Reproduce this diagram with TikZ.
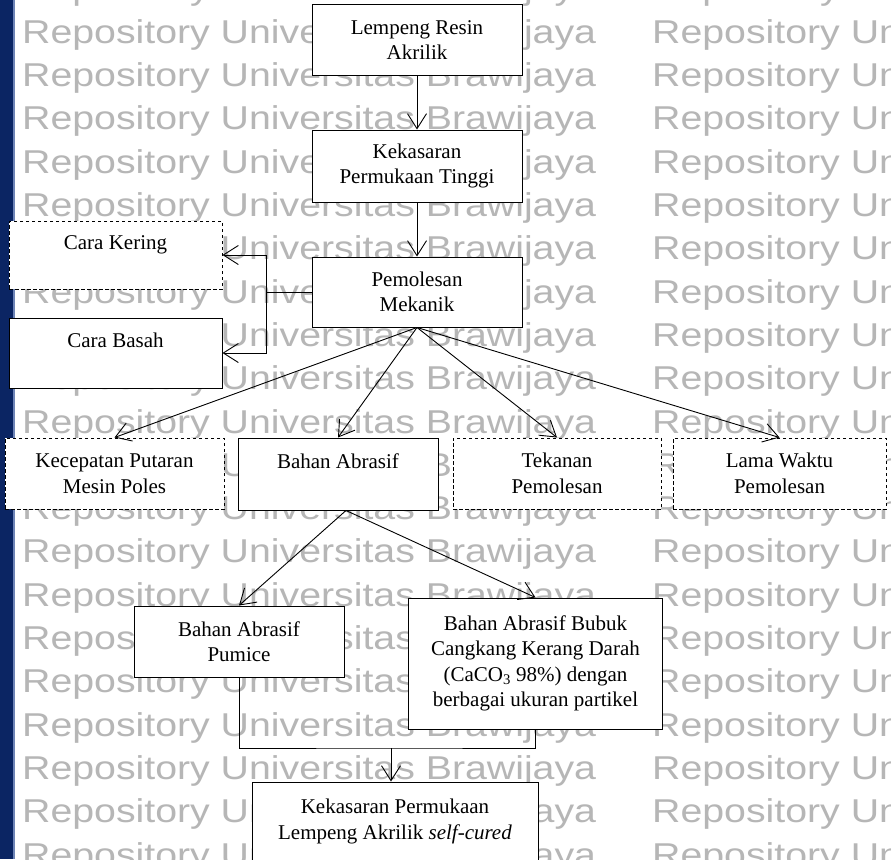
\documentclass[tikz,border=0pt]{standalone}
\usepackage{fontspec}
\setmainfont{Liberation Serif}
\newfontfamily\wmfont{Liberation Sans}
\usetikzlibrary{arrows.meta}
\definecolor{navy}{RGB}{11,37,99}
\definecolor{navyedge}{RGB}{110,132,182}
\definecolor{wmgray}{RGB}{182,182,182}
\tikzset{
 box/.style={draw, line width=1pt, fill=white, inner sep=0pt, align=center, font=\fontsize{21}{25.5}\selectfont},
 dbox/.style={box, dash pattern=on 3.5pt off 2.5pt},
 arr/.style={line width=0.9pt, -{Straight Barb[length=15pt,width=19pt]}},
 conn/.style={line width=0.9pt},
 wm/.style={inner sep=0pt, anchor=base west, text=wmgray, font=\wmfont\fontsize{33}{33}\selectfont}
}
\begin{document}
\begin{tikzpicture}[x=1pt,y=-1pt]
\useasboundingbox (0,0) rectangle (891,859);
\clip (0,0) rectangle (891,859);
\fill[white] (0,0) rectangle (891,859);
% watermark
\foreach \k in {0,...,20}{
 \node[wm] (wma\k) at (22,43.3*\k) {\scalebox{1.19}[1]{Repository Universitas Brawijaya}};
 \node[wm] (wmb\k) at (652,43.3*\k) {\scalebox{1.19}[1]{Repository Universitas Brawijaya}};
}
% left bar
\fill[navy] (0,0) rectangle (13,859);
\fill[navyedge] (13,0) rectangle (15,859);
% boxes
\node[box, minimum width=210pt, minimum height=70pt] (lem) at (417,40) {Lempeng Resin\\Akrilik};
\node[box, minimum width=210pt, minimum height=72pt] (kek) at (417,166) {Kekasaran\\Permukaan Tinggi};
\node[box, minimum width=210pt, minimum height=70pt] (pem) at (417,292) {Pemolesan\\Mekanik};
\node[dbox, minimum width=213pt, minimum height=68pt] (kering) at (115.5,255) {Cara Kering\\~};
\node[box, minimum width=213pt, minimum height=70pt] (basah) at (115.5,353) {Cara Basah\\~};
\node[dbox, minimum width=219pt, minimum height=71pt] (kec) at (114.5,473.5) {Kecepatan Putaran\\Mesin Poles};
\node[box, minimum width=200pt, minimum height=72pt] (bahan) at (338,474) {Bahan Abrasif\\~};
\node[dbox, minimum width=208pt, minimum height=71pt] (tek) at (557,473.5) {Tekanan\\Pemolesan};
\node[dbox, minimum width=213pt, minimum height=71pt] (lama) at (779.5,473.5) {Lama Waktu\\Pemolesan};
\node[box, minimum width=210pt, minimum height=71pt] (pum) at (239,641.5) {Bahan Abrasif\\Pumice};
\node[box, minimum width=254pt, minimum height=131pt] (bub) at (535.5,663.5) {Bahan Abrasif Bubuk\\Cangkang Kerang Darah\\(CaCO\textsubscript{3} 98\%) dengan\\berbagai ukuran partikel};
\node[box, minimum width=286pt, minimum height=100pt] (fin) at (395,832) {Kekasaran Permukaan\\Lempeng Akrilik \textit{self-cured}\\~};
% connectors
\draw[arr] (lem.south) -- (kek.north);
\draw[arr] (kek.south) -- (pem.north);
\coordinate (j1) at (266,292);
\draw[conn] (pem.west) -- (j1);
\draw[arr] (j1) |- (kering.east);
\draw[arr] (j1) |- (basah.east);
\draw[arr] (pem.south) -- (kec.north);
\draw[arr] (pem.south) -- (bahan.north);
\draw[arr] (pem.south) -- (tek.north);
\draw[arr] (pem.south) -- (lama.north);
\draw[arr] ([xshift=8pt]bahan.south) -- (pum.north);
\draw[arr] ([xshift=8pt]bahan.south) -- (bub.north);
\coordinate (j2) at (391,748);
\draw[conn] (pum.south) |- (j2) -| (bub.south);
\draw[arr] (j2) -- (j2 |- fin.north);
\end{tikzpicture}
\end{document}
